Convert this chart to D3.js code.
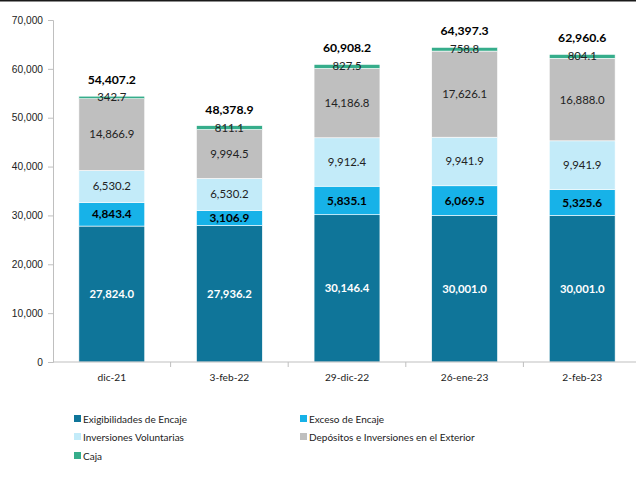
<!DOCTYPE html>
<html>
<head>
<meta charset="utf-8">
<script src="https://cdn.jsdelivr.net/npm/d3@7"></script>
<style>
  body { margin: 0; background: #fff; }
  svg { display: block; font-family: Lato, "Open Sans", sans-serif; }
</style>
</head>
<body>
<script>
// data
var categories = ["dic-21", "3-feb-22", "29-dic-22", "26-ene-23", "2-feb-23"];
var exigibilidades = [27824.0, 27936.2, 30146.4, 30001.0, 30001.0];
var exceso = [4843.4, 3106.9, 5835.1, 6069.5, 5325.6];
var inversiones = [6530.2, 6530.2, 9912.4, 9941.9, 9941.9];
var depositos = [14866.9, 9994.5, 14186.8, 17626.1, 16888.0];
var caja = [342.7, 811.1, 827.5, 758.8, 804.1];
var yTicks = [0, 10000, 20000, 30000, 40000, 50000, 60000, 70000];

var seriesNames = ["Exigibilidades de Encaje", "Exceso de Encaje", "Inversiones Voluntarias",
  "Depósitos e Inversiones en el Exterior", "Caja"];
var keys = ["exig", "exc", "inv", "dep", "caja"];
var colors = ["#0F7599", "#17B2E8", "#C3EBF9", "#BFBFBF", "#36AD8B"];

var rows = categories.map(function(c, i) {
  return { cat: c, exig: exigibilidades[i], exc: exceso[i], inv: inversiones[i], dep: depositos[i], caja: caja[i] };
});

var W = 636, H = 487;
var svg = d3.select("body").append("svg").attr("width", W).attr("height", H);

// top border
svg.append("rect").attr("x", 0).attr("y", 0).attr("width", W).attr("height", 1.5).attr("fill", "#1a1a1a");

var plotLeft = 53, plotTop = 20, plotBottom = 362, plotRight = 641;

var x = d3.scaleBand().domain(categories).range([plotLeft, plotRight]).paddingInner(0.44).paddingOuter(0.22);
var y = d3.scaleLinear().domain([0, 70000]).range([plotBottom, plotTop]);

var stack = d3.stack().keys(keys)(rows);

// y axis
var yAxis = svg.append("g").attr("transform", "translate(" + plotLeft + ",0)")
  .call(d3.axisLeft(y).tickValues(yTicks).tickSize(5).tickPadding(5).tickFormat(d3.format(",")));
yAxis.selectAll("line, path").attr("stroke", "#BFBFBF");
yAxis.selectAll("text").attr("fill", "#222").style("font-size", "10.2px");

// bars
var groups = svg.selectAll("g.layer").data(stack).enter().append("g")
  .attr("class", "layer")
  .attr("fill", function(d, i) { return colors[i]; });

groups.selectAll("rect").data(function(d) { return d; }).enter().append("rect")
  .attr("x", function(d) { return x(d.data.cat); })
  .attr("width", x.bandwidth())
  .attr("y", function(d) { return y(d[1]); })
  .attr("height", function(d) { return Math.max(y(d[0]) - y(d[1]), 2.5); })
  .attr("stroke", "#fff")
  .attr("stroke-width", 0.6);

// x axis
var band = x.step();
var xAxis = svg.append("g").attr("transform", "translate(0," + plotBottom + ")");
xAxis.append("line").attr("x1", plotLeft).attr("x2", plotRight).attr("stroke", "#BFBFBF");
categories.forEach(function(c, i) {
  var bx = x(c) - (band - x.bandwidth()) / 2;
  if (i > 0) {
    xAxis.append("line").attr("x1", bx).attr("x2", bx).attr("y1", 0).attr("y2", 5).attr("stroke", "#BFBFBF");
  }
  xAxis.append("text").attr("x", x(c) + x.bandwidth() / 2).attr("y", 19)
    .attr("text-anchor", "middle").attr("fill", "#222").style("font-size", "10.2px").text(c);
});

// segment labels
var fmt = d3.format(",.1f");
stack.forEach(function(layer, li) {
  layer.forEach(function(d) {
    var cx = x(d.data.cat) + x.bandwidth() / 2;
    var cy = (y(d[0]) + y(d[1])) / 2;
    var t = svg.append("text").attr("x", cx).attr("y", cy).attr("dy", "0.35em")
      .attr("text-anchor", "middle").text(fmt(d[1] - d[0]));
    if (li === 0) t.attr("fill", "#fff").style("font-weight", "bold").style("font-size", "11.3px");
    else if (li === 1) t.attr("fill", "#000").style("font-weight", "bold").style("font-size", "11.8px");
    else t.attr("fill", "#222").style("font-size", "11.4px");
  });
});

// totals
rows.forEach(function(r) {
  var total = r.exig + r.exc + r.inv + r.dep + r.caja;
  svg.append("text").attr("x", x(r.cat) + x.bandwidth() / 2).attr("y", y(total) - 12)
    .attr("text-anchor", "middle").attr("fill", "#000")
    .style("font-weight", "bold").style("font-size", "12.2px").text(fmt(total));
});

// legend
var legendPos = [[74, 419], [300, 419], [74, 437], [300, 437], [74, 456]];
seriesNames.forEach(function(name, i) {
  var g = svg.append("g").attr("transform", "translate(" + legendPos[i][0] + "," + legendPos[i][1] + ")");
  g.append("rect").attr("x", 0).attr("y", -4).attr("width", 7).attr("height", 7).attr("fill", colors[i]);
  g.append("text").attr("x", 9).attr("y", 0).attr("dy", "0.35em").attr("fill", "#222")
    .style("font-size", "10px").text(name);
});
</script>
</body>
</html>
